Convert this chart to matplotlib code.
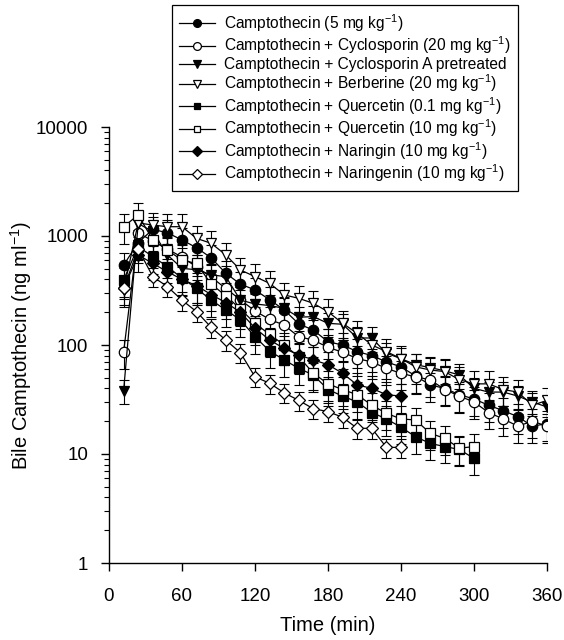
import numpy as np
import matplotlib
matplotlib.use("Agg")
import matplotlib.pyplot as plt
from matplotlib.ticker import LogLocator, NullFormatter, FixedLocator

plt.rcParams["font.family"] = ["Liberation Sans", "DejaVu Sans"]
plt.rcParams["mathtext.fontset"] = "custom"
plt.rcParams["mathtext.rm"] = "Liberation Sans"
plt.rcParams["mathtext.it"] = "Liberation Sans:italic"

# sampling times (min)
time = list(range(12, 361, 12))

cpt = [540, 870, 1150, 1070, 920, 780, 630, 455, 362, 320, 260, 210, 156, 137, 107,
       100, 87, 80, 70, 63, 52, 43, 40, 35, 32, 28, 25, 22, 18, 19]
cyclosporin = [86, 1070, 900, 760, 640, 520, 420, 330, 260, 205, 172, 152, 119, 111, 95,
               86, 75, 70, 61, 55, 51, 48, 39, 34, 30, 24, 21, 18, 20, 18]
pretreated = [38, 1300, 1100, 670, 505, 490, 440, 424, 258, 238, 230, 217, 180, 182, 158,
              155, 116, 116, 84, 75, 66, 62, 58, 53, 40, 37, 37, 34, 30, 27]
berberine = [320, 1318, 1260, 1217, 1217, 950, 857, 670, 488, 424, 368, 288, 268, 241, 202,
             158, 128, 100, 87, 75, 63, 59, 57, 48, 44, 44, 39, 37, 28, 31]
quercetin_low = [395, 800, 646, 524, 410, 330, 258, 210, 170, 119, 88, 73, 61, 53, 39,
                 34, 30, 24, 21, 17.6, 14.4, 12.5, 11.7, 11, 9.1]
quercetin_high = [1217, 1560, 919, 744, 600, 560, 362, 283, 214, 158, 125, 100, 78, 55, 44,
                  39, 35, 28, 23.6, 21, 20.5, 15.5, 13.9, 11.3, 11.7]
naringin = [330, 670, 560, 470, 400, 350, 290, 245, 200, 143, 111, 93, 81, 73, 66,
            55, 43, 40, 35, 34]
naringenin = [331, 760, 424, 343, 258, 202, 145, 111, 85, 51, 44.6, 36.4, 31, 26, 24.5,
              21.7, 17.2, 17.2, 11.5, 11.5]

# relative SEM
rel_sem = [0.3, 0.3, 0.25, 0.3, 0.3, 0.3, 0.3, 0.2]

labels = [
    r"Camptothecin (5 mg kg$^{-1}$)",
    r"Camptothecin + Cyclosporin (20 mg kg$^{-1}$)",
    "Camptothecin + Cyclosporin A pretreated",
    r"Camptothecin + Berberine (20 mg kg$^{-1}$)",
    r"Camptothecin + Quercetin (0.1 mg kg$^{-1}$)",
    r"Camptothecin + Quercetin (10 mg kg$^{-1}$)",
    r"Camptothecin + Naringin (10 mg kg$^{-1}$)",
    r"Camptothecin + Naringenin (10 mg kg$^{-1}$)",
]
series = [cpt, cyclosporin, pretreated, berberine, quercetin_low, quercetin_high,
          naringin, naringenin]
markers = ["o", "o", "v", "v", "s", "s", "D", "D"]
fills = ["black", "white", "black", "white", "black", "white", "black", "white"]
msizes = [7.5, 7.5, 7.5, 7.5, 6.5, 6.5, 6.5, 6.5]

fig = plt.figure(figsize=(5.64, 6.4), dpi=100)
ax = fig.add_axes([109 / 564, 77 / 640, 438 / 564, 436 / 640])

handles = []
for vals, lab, mk, fc, ms, rs in zip(series, labels, markers, fills, msizes, rel_sem):
    t = time[:len(vals)]
    v = np.array(vals, dtype=float)
    ax.errorbar(t, v, yerr=v * rs, fmt="none", ecolor="black", elinewidth=0.8,
                capsize=3.5, capthick=0.8, zorder=2)
    ln, = ax.plot(t, v, color="black", lw=0.9, marker=mk, markersize=ms,
                  markerfacecolor=fc, markeredgecolor="black", markeredgewidth=0.9,
                  zorder=3, label=lab)
    handles.append(ln)

ax.set_yscale("log")
ax.set_ylim(1, 10000)
ax.set_xlim(0, 360)
ax.xaxis.set_major_locator(FixedLocator([0, 60, 120, 180, 240, 300, 360]))
ax.yaxis.set_major_locator(FixedLocator([1, 10, 100, 1000, 10000]))
ax.set_yticklabels(["1", "10", "100", "1000", "10000"])
ax.yaxis.set_minor_locator(LogLocator(base=10, subs=np.arange(2, 10), numticks=20))
ax.yaxis.set_minor_formatter(NullFormatter())

for s in ["top", "right"]:
    ax.spines[s].set_visible(False)
for s in ["left", "bottom"]:
    ax.spines[s].set_linewidth(1.0)
ax.tick_params(axis="both", which="major", direction="out", length=6, width=1.0,
               labelsize=13.5)
ax.tick_params(axis="x", which="major", pad=12)
ax.tick_params(axis="y", which="major", pad=9)
ax.tick_params(axis="y", which="minor", direction="out", length=3.5, width=0.8)

ax.set_xlabel("Time (min)", fontsize=14.5, labelpad=8)
ax.set_ylabel(r"Bile Camptothecin (ng ml$^{-1}$)", fontsize=14.5, labelpad=1)

leg = fig.legend(handles=handles, loc="upper left",
                 bbox_to_anchor=(172 / 564, 1 - 5 / 640), borderaxespad=0,
                 fontsize=11.2, frameon=True, fancybox=False, edgecolor="black",
                 framealpha=1, handlelength=2.3, handletextpad=0.6,
                 labelspacing=0.05, borderpad=0.45, markerscale=0.75)
leg.get_frame().set_linewidth(0.9)

fig.savefig("out.png", dpi=100)
